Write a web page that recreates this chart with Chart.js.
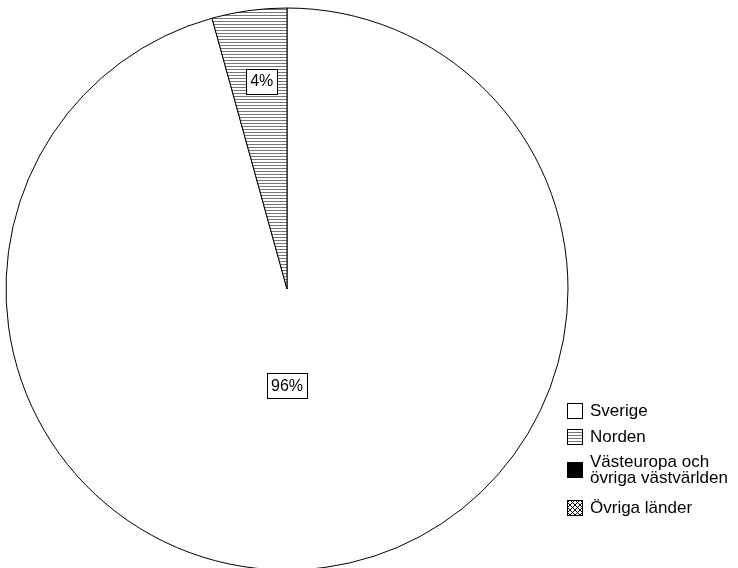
<!DOCTYPE html>
<html>
<head>
<meta charset="utf-8">
<script src="https://cdn.jsdelivr.net/npm/chart.js@4/dist/chart.umd.min.js"></script>
<style>
html,body{margin:0;padding:0;background:#fff;}
canvas{display:block;}
</style>
</head>
<body>
<canvas id="c" width="738" height="568"></canvas>
<script>
const categories = ["Sverige", "Norden", "Västeuropa och\növriga västvärlden", "Övriga länder"];
const shares = [95.7, 4.3, 0, 0];
const percentLabels = ["96%", "4%", "", ""];

function makeLinePattern() {
  const p = document.createElement('canvas');
  p.width = 4; p.height = 3;
  const g = p.getContext('2d');
  g.fillStyle = '#fff'; g.fillRect(0, 0, 4, 3);
  g.fillStyle = '#777'; g.fillRect(0, 0, 4, 1);
  return g.createPattern(p, 'repeat');
}
function makeCrossPattern() {
  const p = document.createElement('canvas');
  p.width = 5; p.height = 5;
  const g = p.getContext('2d');
  g.fillStyle = '#fff'; g.fillRect(0, 0, 5, 5);
  g.strokeStyle = '#000'; g.lineWidth = 1;
  g.beginPath();
  g.moveTo(0, 0); g.lineTo(5, 5);
  g.moveTo(5, 0); g.lineTo(0, 5);
  g.stroke();
  return g.createPattern(p, 'repeat');
}
const ctx0 = document.getElementById('c').getContext('2d');
const fills = ['#ffffff', makeLinePattern(), '#000000', makeCrossPattern()];
const LABEL_FONT = '16px "Liberation Sans", Arial, sans-serif';
const LEGEND_FONT = '17px "Liberation Sans", Arial, sans-serif';

const labelPlugin = {
  id: 'labelPlugin',
  afterDatasetsDraw(chart) {
    const ctx = chart.ctx;
    const meta = chart.getDatasetMeta(0);
    // label anchor offsets from the pie centre, as fractions of the radius
    const off = [[0, 0.345], [-0.09, -0.74], [0, 0], [0, 0]];
    ctx.save();
    ctx.font = LABEL_FONT;
    ctx.textAlign = 'center';
    ctx.textBaseline = 'middle';
    meta.data.forEach((arc, i) => {
      const t = percentLabels[i];
      if (!t) return;
      const p = arc.getProps(['x', 'y', 'outerRadius']);
      const x = p.x + off[i][0] * p.outerRadius;
      const y = p.y + off[i][1] * p.outerRadius;
      const w = Math.round(ctx.measureText(t).width + 8);
      const h = 25;
      const bx = Math.round(x - w / 2) + 0.5, by = Math.round(y - h / 2) + 0.5;
      ctx.fillStyle = '#fff';
      ctx.fillRect(bx, by, w, h);
      ctx.strokeStyle = '#000';
      ctx.lineWidth = 1;
      ctx.strokeRect(bx, by, w, h);
      ctx.fillStyle = '#000';
      ctx.fillText(t, x, y + 1);
    });
    ctx.restore();
  }
};

const legendPlugin = {
  id: 'customLegend',
  afterDraw(chart) {
    const ctx = chart.ctx;
    const boxX = 567, textX = 590, box = 16;
    const tops = [403, 429, 462, 500];
    ctx.save();
    ctx.font = LEGEND_FONT;
    ctx.textAlign = 'left';
    ctx.textBaseline = 'middle';
    categories.forEach((c, i) => {
      const y = tops[i];
      ctx.fillStyle = fills[i];
      ctx.fillRect(boxX, y, box, box);
      ctx.strokeStyle = '#000';
      ctx.lineWidth = 1;
      ctx.strokeRect(boxX + 0.5, y + 0.5, box - 1, box - 1);
      ctx.fillStyle = '#000';
      const lines = c.split('\n');
      if (lines.length === 1) {
        ctx.fillText(lines[0], textX, y + box / 2);
      } else {
        ctx.fillText(lines[0], textX, y + box / 2 - 8);
        ctx.fillText(lines[1], textX, y + box / 2 + 8);
      }
    });
    ctx.restore();
  }
};

new Chart(ctx0, {
  type: 'pie',
  data: {
    labels: categories,
    datasets: [{
      data: shares,
      backgroundColor: fills,
      borderColor: '#000',
      borderWidth: 1,
      borderAlign: 'center'
    }]
  },
  options: {
    responsive: false,
    animation: false,
    radius: 281,
    layout: { padding: { left: 6, right: 170, top: 10, bottom: 0 } },
    plugins: {
      legend: { display: false },
      tooltip: { enabled: false }
    }
  },
  plugins: [labelPlugin, legendPlugin]
});
</script>
</body>
</html>
